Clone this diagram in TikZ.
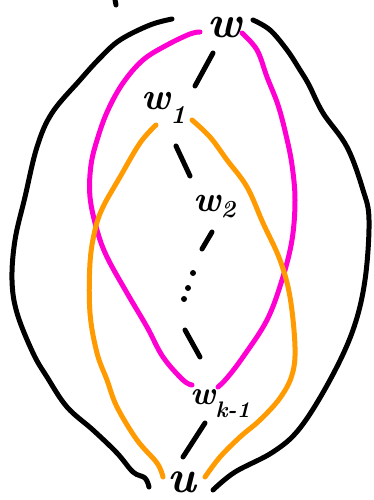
\documentclass[tikz,border=0pt]{standalone}
\usepackage{fontspec}
\definecolor{pinkline}{RGB}{255,0,210}
\definecolor{orangeline}{RGB}{255,155,0}
\newcommand{\mysub}[2]{\raisebox{#1}{\fontsize{0.68em}{0.68em}\selectfont #2}}
\tikzset{
  stroke/.style={line width=5pt, line cap=round, line join=round},
  blk/.style={stroke, black},
  pnk/.style={stroke, pinkline},
  org/.style={stroke, orangeline},
  lbl/.style={inner sep=0pt, anchor=base west, text=black, font=\bfseries\itshape},
  dotmark/.style={fill=black, circle, inner sep=0pt, minimum size=6pt}
}
\begin{document}
\begin{tikzpicture}[x=1pt,y=-1pt]
\useasboundingbox (0,0) rectangle (373,500);
% labels
\node[lbl] (w) at (207,38) {\fontsize{45}{45}\selectfont w};
\node[lbl] (w1) at (141,110) {\fontsize{38}{38}\selectfont w\mysub{-0.36em}{1}};
\node[lbl] (w2) at (193,211) {\fontsize{36}{36}\selectfont w\mysub{-0.18em}{2}};
\node[lbl] (wk) at (190,404) {\fontsize{33}{33}\selectfont w\mysub{-0.4em}{k-1}};
\node[lbl] (u) at (167,492) {\fontsize{46}{46}\selectfont u};
% stroke ends
\coordinate (a1) at (213,53); \coordinate (a2) at (195,86);
\coordinate (b1) at (176,146); \coordinate (b2) at (190,176);
\coordinate (c1) at (212,232); \coordinate (c2) at (202,249);
\coordinate (d1) at (185,330); \coordinate (d2) at (200,357);
\coordinate (e1) at (205,423); \coordinate (e2) at (183,457);
\node[dotmark] (p1) at (193,273) {};
\node[dotmark] (p2) at (188,288) {};
\node[dotmark] (p3) at (184,299) {};
\draw[blk] (a1) -- (a2);
\draw[blk] (b1) -- (b2);
\draw[blk] (c1) -- (c2);
\draw[blk] (d1) -- (d2);
\draw[blk] (e1) -- (e2);
% tiny mark at top
\coordinate (t1) at (115,0); \coordinate (t2) at (116,5);
\draw[blk] (t1) -- (t2);
% outer black curves
\draw[blk] plot[smooth, tension=0.6] coordinates {(172,19) (150,25) (120,40) (100,58) (80,80) (52,113) (37,147) (25,197) (15,240) (12,280) (17,313) (33,353) (47,377) (67,407) (93,430) (117,453) (133,472) (145,478) (149,487)};
\draw[blk] plot[smooth, tension=0.6] coordinates {(253,20) (270,30) (287,50) (300,70) (309,85) (323,113) (347,147) (363,190) (369,220) (365,280) (353,330) (330,380) (300,428) (273,452) (235,472) (213,490)};
% magenta
\draw[pnk] plot[smooth, tension=0.6] coordinates {(200,32) (190,34) (167,45) (143,60) (123,83) (108,110) (98,137) (91,165) (90,197) (97,230) (107,257) (127,293) (147,327) (163,357) (183,380) (192,385)};
\draw[pnk] plot[smooth, tension=0.6] coordinates {(242,33) (257,50) (267,77) (278,105) (286,135) (292,165) (295,200) (292,240) (282,280) (267,320) (243,357) (227,378) (218,387)};
% orange
\draw[org] plot[smooth, tension=0.6] coordinates {(156,125) (140,143) (120,177) (103,207) (95,230) (90,263) (90,313) (97,353) (107,380) (117,407) (137,440) (157,463) (163,477)};
\draw[org] plot[smooth, tension=0.6] coordinates {(192,120) (210,137) (227,160) (247,187) (263,223) (280,260) (290,297) (295,347) (292,375) (280,398) (260,420) (240,437) (220,457) (205,477)};
\end{tikzpicture}
\end{document}
